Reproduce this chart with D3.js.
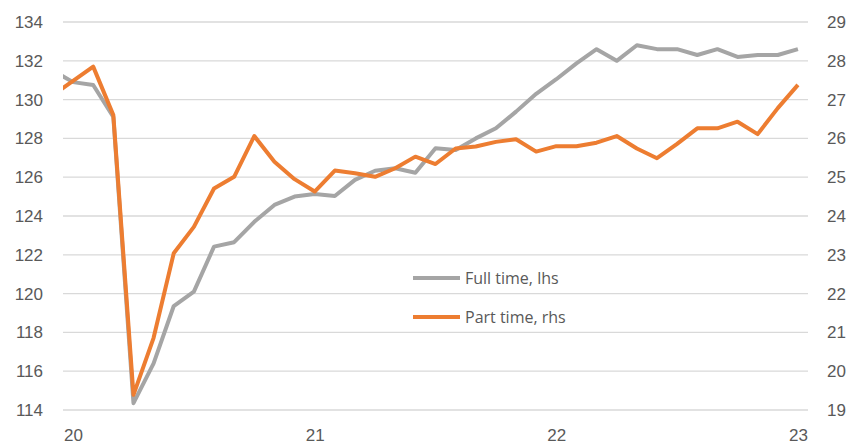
<!DOCTYPE html>
<html lang="en">

<head>
    <meta charset="UTF-8">
    <title>Full time vs part time</title>
    <script src="https://d3js.org/d3.v7.min.js"></script>
    <style>
        body {
            margin: 0;
            background: #fff;
        }

        svg {
            display: block;
            font-family: 'Open Sans', sans-serif;
        }

        .tick text {
            fill: #595959;
            font-size: 17px;
        }

        .grid line {
            stroke: #d9d9d9;
            stroke-width: 1.3;
        }
    </style>
</head>

<body>
    <svg></svg>
    <script>
        const width = 850;
        const height = 446;

        // months from Dec 2019 (index -1) to Jan 2023 (index 36)
        const firstMonth = -1;
        const yearTicks = [0, 12, 24, 36];
        const yearLabels = ["20", "21", "22", "23"];

        const fullTime = [131.5, 130.9, 130.75, 129.1, 114.35, 116.4, 119.36, 120.1, 122.42, 122.65, 123.7, 124.57, 125.0,
            125.13, 125.03, 125.86, 126.33, 126.46, 126.23, 127.49, 127.4, 128.0, 128.52, 129.38, 130.3,
            131.05, 131.87, 132.6, 132.0, 132.8, 132.6, 132.6, 132.3, 132.6, 132.2, 132.3, 132.3,
            132.6];

        const partTime = [27.12, 27.48, 27.85, 26.6, 19.39, 20.86, 23.04, 23.72, 24.71, 25.01, 26.06, 25.4, 24.95,
            24.63, 25.17, 25.1, 25.01, 25.23, 25.53, 25.34, 25.74, 25.79, 25.91, 25.98, 25.66,
            25.80, 25.80, 25.89, 26.06, 25.74, 25.49, 25.86, 26.26, 26.26, 26.43, 26.11, 26.78,
            27.38];

        const leftTicks = d3.range(114, 135, 2);
        const rightTicks = d3.range(19, 30, 1);

        const seriesNames = ["Full time, lhs", "Part time, rhs"];
        const colors = ["#a5a5a5", "#ed7d31"];

        const plot = { left: 63, right: 808, top: 22, bottom: 410 };

        let svg = d3.select("svg").attr("width", width).attr("height", height);

        const x = d3.scaleLinear().domain([-0.5, 36.5]).range([plot.left, plot.right]);
        const yL = d3.scaleLinear().domain([114, 134]).range([plot.bottom, plot.top]);
        const yR = d3.scaleLinear().domain([19, 29]).range([plot.bottom, plot.top]);

        // gridlines
        svg.append("g").attr("class", "grid")
            .selectAll("line")
            .data(leftTicks)
            .enter()
            .append("line")
            .attr("x1", plot.left)
            .attr("x2", plot.right)
            .attr("y1", d => yL(d))
            .attr("y2", d => yL(d));

        // axes
        svg.append("g")
            .attr("transform", `translate(${plot.left - 20},0)`)
            .call(d3.axisLeft(yL).tickValues(leftTicks).tickSize(0).tickPadding(0))
            .call(g => g.select(".domain").remove());

        svg.append("g")
            .attr("transform", `translate(${plot.right + 19},0)`)
            .call(d3.axisRight(yR).tickValues(rightTicks).tickSize(0).tickPadding(0))
            .call(g => g.select(".domain").remove());

        svg.append("g")
            .attr("transform", `translate(0,${plot.bottom + 15})`)
            .call(d3.axisBottom(x).tickValues(yearTicks).tickFormat((d, i) => yearLabels[i]).tickSize(0).tickPadding(4))
            .call(g => g.select(".domain").remove());

        // clip lines to the plot area
        svg.append("clipPath").attr("id", "plotClip")
            .append("rect")
            .attr("x", plot.left)
            .attr("y", 0)
            .attr("width", plot.right - plot.left)
            .attr("height", height);

        let gLines = svg.append("g").attr("clip-path", "url(#plotClip)");

        const lineL = d3.line().x((d, i) => x(firstMonth + i)).y(d => yL(d));
        const lineR = d3.line().x((d, i) => x(firstMonth + i)).y(d => yR(d));

        gLines.append("path")
            .datum(fullTime)
            .attr("d", lineL)
            .attr("fill", "none")
            .attr("stroke", colors[0])
            .attr("stroke-width", 4)
            .attr("stroke-linejoin", "round");

        gLines.append("path")
            .datum(partTime)
            .attr("d", lineR)
            .attr("fill", "none")
            .attr("stroke", colors[1])
            .attr("stroke-width", 4)
            .attr("stroke-linejoin", "round");

        // legend
        let legend = svg.append("g").attr("transform", "translate(413,278)");
        let items = legend.selectAll("g")
            .data(seriesNames)
            .enter()
            .append("g")
            .attr("transform", (d, i) => `translate(0,${i * 39})`);

        items.append("line")
            .attr("x1", 0)
            .attr("x2", 47)
            .attr("stroke", (d, i) => colors[i])
            .attr("stroke-width", 4);

        items.append("text")
            .attr("x", 52)
            .attr("dy", "0.35em")
            .attr("fill", "#595959")
            .style("font-size", "16px")
            .text(d => d);
    </script>
</body>

</html>
